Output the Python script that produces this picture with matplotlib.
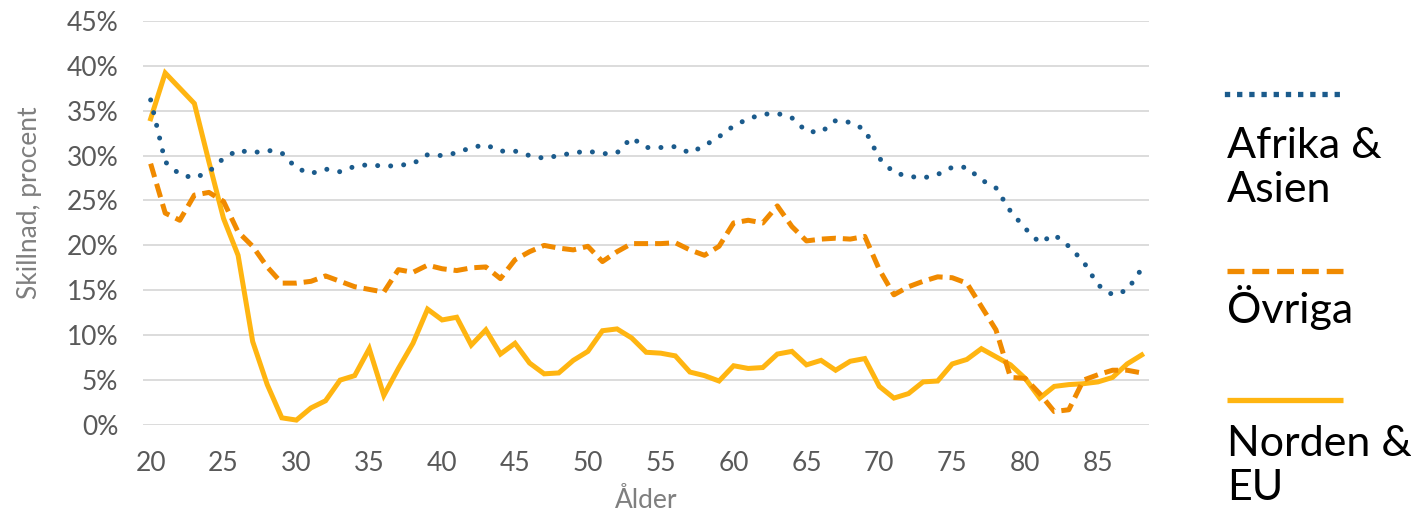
import matplotlib.pyplot as plt
from matplotlib.lines import Line2D
from matplotlib.ticker import FuncFormatter

# ages 20..88
ages = list(range(20, 89))

afrika_asien = [36.2, 29.3, 27.9, 27.5, 28.2, 29.7, 30.6, 30.3, 30.6, 30.3,
                28.6, 28.0, 28.5, 28.2, 28.8, 29.0, 28.8, 28.9, 29.1, 30.1,
                30.0, 30.3, 30.9, 31.2, 30.5, 30.5, 30.0, 29.7, 30.0, 30.3,
                30.5, 30.2, 30.3, 32.0, 30.9, 30.9, 31.0, 30.3, 31.1, 32.1,
                33.3, 34.1, 34.6, 34.7, 34.2, 32.7, 32.6, 33.9, 33.7, 32.9,
                29.7, 28.1, 27.7, 27.5, 27.9, 28.7, 28.7, 27.3, 26.4, 23.8,
                21.9, 20.3, 21.2, 19.9, 18.2, 15.6, 14.5, 15.0, 17.4]

ovriga = [29.1, 23.6, 22.8, 25.6, 25.9, 24.9, 21.5, 19.9, 17.6, 15.8,
          15.8, 16.0, 16.6, 16.0, 15.4, 15.1, 14.8, 17.3, 17.0, 17.8,
          17.4, 17.2, 17.5, 17.6, 16.3, 18.4, 19.3, 20.0, 19.7, 19.5,
          19.9, 18.2, 19.3, 20.2, 20.2, 20.2, 20.3, 19.5, 18.9, 19.9,
          22.5, 22.8, 22.5, 24.4, 22.1, 20.5, 20.7, 20.8, 20.7, 21.0,
          17.3, 14.5, 15.4, 16.0, 16.5, 16.4, 15.8, 13.2, 10.6, 5.3,
          5.2, 3.5, 1.5, 1.7, 5.0, 5.6, 6.1, 6.1, 5.8]

norden_eu = [34.1, 39.2, 37.5, 35.8, 29.3, 23.0, 18.9, 9.3, 4.5, 0.8,
             0.55, 1.9, 2.7, 5.0, 5.5, 8.5, 3.3, 6.3, 9.1, 12.9,
             11.7, 12.0, 8.9, 10.6, 7.9, 9.1, 6.9, 5.7, 5.8, 7.2,
             8.2, 10.5, 10.7, 9.7, 8.1, 8.0, 7.7, 5.9, 5.5, 4.9,
             6.6, 6.3, 6.4, 7.9, 8.2, 6.7, 7.2, 6.1, 7.1, 7.4,
             4.3, 3.0, 3.5, 4.8, 4.9, 6.8, 7.3, 8.5, 7.6, 6.7,
             5.2, 3.0, 4.3, 4.5, 4.6, 4.8, 5.3, 6.8, 7.8]

labels = ["Afrika &\nAsien", "Övriga", "Norden &\nEU"]
blue = "#1B5B8C"
orange = "#F08A00"
yellow = "#FFB511"

plt.rcParams['font.family'] = ['Lato', 'DejaVu Sans']

fig, ax = plt.subplots(figsize=(14.11, 5.18), dpi=100)
fig.subplots_adjust(left=0.1016, right=0.8143, bottom=0.1795, top=0.9597)

lw = 3.6
ax.plot(ages, norden_eu, color=yellow, lw=lw, solid_joinstyle='miter', zorder=3)
ax.plot(ages, ovriga, color=orange, lw=lw, linestyle=(0, (2.8, 1.4)),
        dash_capstyle='butt', zorder=3)
ax.plot(ages, afrika_asien, color=blue, lw=lw, linestyle=(0, (0.01, 2.6)),
        dash_capstyle='round', zorder=3)

ax.set_xlim(19.5, 88.5)
ax.set_ylim(0, 45)
ax.set_xticks(range(20, 89, 5))
ax.set_yticks(range(0, 46, 5))
ax.yaxis.set_major_formatter(FuncFormatter(lambda v, p: f"{v:.0f}%"))
ax.grid(axis='y', color='#D9D9D9', lw=1.3, zorder=0)
ax.set_axisbelow(True)
for s in ax.spines.values():
    s.set_visible(False)
ax.tick_params(length=0, labelsize=19, labelcolor='#595959')
ax.tick_params(axis='x', pad=19)
ax.tick_params(axis='y', pad=18)

ax.set_xlabel("Ålder", fontsize=19, color='#7F7F7F')
ax.xaxis.set_label_coords(0.5, -0.155)
ax.set_ylabel("Skillnad, procent", fontsize=19, color='#7F7F7F')
ax.yaxis.set_label_coords(-0.101, 0.55)

# legend at the right, line sample above each label
W, H = 1411, 518
x0, x1 = 1227 / W, 1343 / W
samples = [(94, blue, (0, (0.01, 2.3)), 'projecting'),
           (271, orange, (0, (3.2, 1.5)), 'butt'),
           (400, yellow, '-', 'butt')]
for (yp, c, ls, cap) in samples:
    fig.add_artist(Line2D([x0, x1], [1 - yp / H] * 2, color=c, lw=3.8,
                          linestyle=ls, dash_capstyle=cap, solid_capstyle='butt'))
# baseline of the last line of each label
text_y = [202, 323, 500]
for lab, yb in zip(labels, text_y):
    fig.text(x0, 1 - yb / H, lab, fontsize=31, color='black',
             va='baseline', ha='left', linespacing=1.2)

fig.savefig("out.png", dpi=100)
